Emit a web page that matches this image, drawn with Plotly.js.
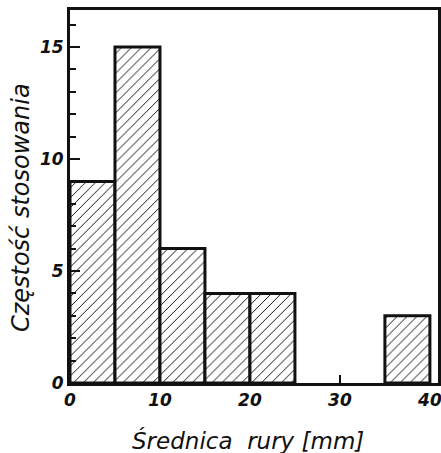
<!DOCTYPE html>
<html>
<head>
<meta charset="utf-8">
<script src="https://cdn.plot.ly/plotly-3.0.1.min.js"></script>
<style>html,body{margin:0;padding:0;background:#fff;}#chart{width:441px;height:453px;}</style>
</head>
<body>
<div id="chart"></div>
<script>
// Data
const binStarts = [0, 5, 10, 15, 20, 35];   // lower edge of each bin [mm]
const binWidth = 5;                            // bin width [mm]
const counts = [9, 15, 6, 4, 4, 3];            // Częstość stosowania
const xTickVals = [0, 10, 20, 30, 40];
const yTickVals = [0, 5, 10, 15];
const xTitle = 'Średnica  rury [mm]';
const yTitle = 'Częstość stosowania';

const centers = binStarts.map(s => s + binWidth / 2);

const trace = {
  type: 'bar',
  x: centers,
  y: counts,
  width: binStarts.map(() => binWidth),
  marker: {
    color: '#ffffff',
    line: {color: '#111111', width: 3},
    pattern: {shape: '/', fgcolor: '#111111', bgcolor: '#ffffff', size: 7, solidity: 0.14}
  },
  hoverinfo: 'x+y'
};

const tickFont = {family: 'DejaVu Sans, sans-serif', size: 17, color: '#111', style: 'italic', weight: 'bold'};
const titleFont = {family: 'DejaVu Sans, sans-serif', size: 23, color: '#111', style: 'italic'};

const layout = {
  width: 441,
  height: 453,
  margin: {l: 70, r: 3, t: 10, b: 70},
  paper_bgcolor: '#ffffff',
  plot_bgcolor: '#ffffff',
  showlegend: false,
  bargap: 0,
  xaxis: {
    range: [0, 40.9],
    tickvals: xTickVals,
    ticktext: xTickVals.map(String),
    ticks: 'inside',
    ticklen: 8,
    tickwidth: 2,
    tickcolor: '#111',
    ticklabeloverflow: 'allow',
    showline: true,
    linecolor: '#111',
    linewidth: 3,
    mirror: true,
    showgrid: false,
    zeroline: false,
    tickfont: tickFont
  },
  yaxis: {
    range: [0, 16.65],
    tickvals: yTickVals,
    ticktext: yTickVals.map(String),
    ticks: 'inside',
    ticklen: 10,
    tickwidth: 2,
    tickcolor: '#111',
    minor: {dtick: 1, tick0: 0, ticks: 'inside', ticklen: 6, tickwidth: 2, tickcolor: '#111', showgrid: false},
    showline: true,
    linecolor: '#111',
    linewidth: 3,
    mirror: true,
    showgrid: false,
    zeroline: false,
    tickfont: tickFont
  },
  annotations: [
    {text: xTitle, xref: 'paper', yref: 'paper', x: 0.484, y: -0.153,
     xanchor: 'center', yanchor: 'middle', showarrow: false, font: titleFont},
    {text: yTitle, xref: 'paper', yref: 'paper', x: -0.133, y: 0.469, textangle: -90,
     xanchor: 'center', yanchor: 'middle', showarrow: false,
     font: Object.assign({}, titleFont, {size: 24})}
  ]
};

Plotly.newPlot('chart', [trace], layout, {displayModeBar: false, staticPlot: true});
</script>
</body>
</html>
